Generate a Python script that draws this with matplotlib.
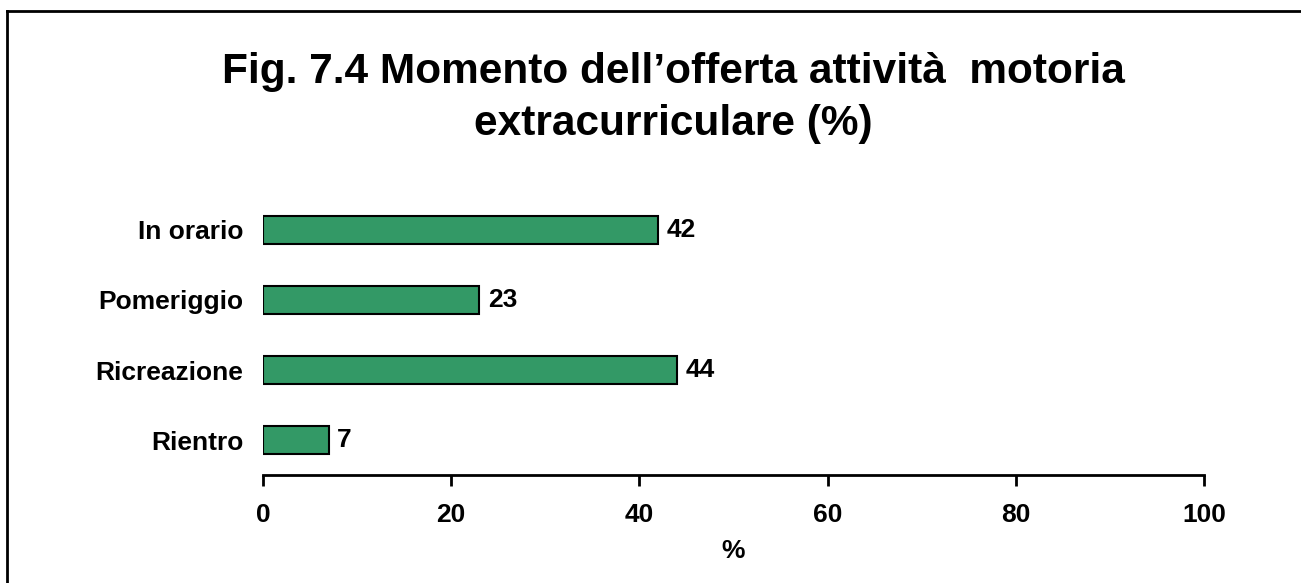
import matplotlib.pyplot as plt
from matplotlib.lines import Line2D

categories = ["In orario", "Pomeriggio", "Ricreazione", "Rientro"]
values = [42, 23, 44, 7]
xticks = [0, 20, 40, 60, 80, 100]

plt.rcParams['font.family'] = ['Liberation Sans', 'DejaVu Sans']
plt.rcParams['font.weight'] = 'bold'

fig = plt.figure(figsize=(13.01, 5.83), dpi=100)
ax = fig.add_axes([263/1301, 1 - 475/583, (1204 - 263)/1301, 280/583])

ypos = list(range(len(categories)))[::-1]
ax.barh(ypos, values, height=0.41, color='#339966', edgecolor='black', linewidth=1.5)
for y, v in zip(ypos, values):
    ax.text(v + 0.9, y, str(v), va='center', ha='left', fontsize=19, fontweight='bold')

ax.set_xlim(0, 100)
ax.set_ylim(-0.5, 3.5)
ax.set_yticks(ypos)
ax.set_yticklabels(categories, fontsize=19, fontweight='bold')
ax.set_xticks(xticks)
ax.set_xticklabels([str(t) for t in xticks], fontsize=19, fontweight='bold')
ax.tick_params(axis='y', length=0, pad=14)
ax.tick_params(axis='x', length=8, width=2, pad=12, direction='out')
for s in ['top', 'right', 'left']:
    ax.spines[s].set_visible(False)
ax.spines['bottom'].set_linewidth(2)
ax.set_xlabel("%", fontsize=19, fontweight='bold', labelpad=9)

fig.text(673/1301, 1 - 98/583, "Fig. 7.4 Momento dell\u2019offerta attivit\u00e0  motoria\nextracurriculare (%)",
         ha='center', va='center', fontsize=30.5, fontweight='bold', linespacing=1.38)

# frame: only top and left edges are visible in the original
top_y = 1 - 11/583
left_x = 7/1301
fig.lines.append(Line2D([left_x, 1], [top_y, top_y], transform=fig.transFigure, color='black', linewidth=2))
fig.lines.append(Line2D([left_x, left_x], [0, top_y], transform=fig.transFigure, color='black', linewidth=2))

fig.savefig("out.png", dpi=100)
